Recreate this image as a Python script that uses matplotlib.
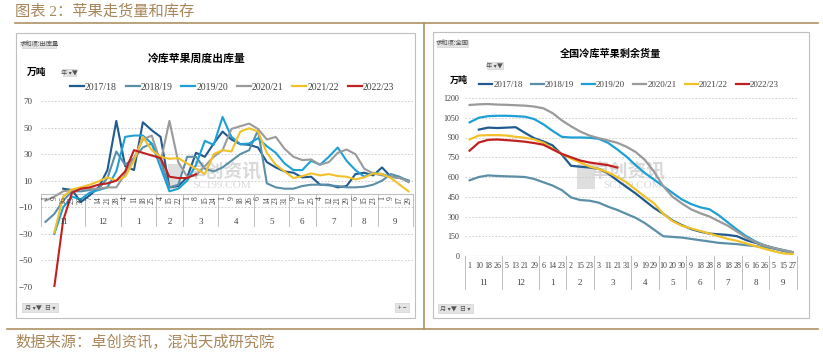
import numpy as np
import matplotlib
matplotlib.use("Agg")
import matplotlib.pyplot as plt
from matplotlib.lines import Line2D
from matplotlib.patches import Rectangle

plt.rcParams['font.family'] = ['Liberation Serif', 'Noto Sans CJK SC', 'DejaVu Sans']

nan = np.nan

#Season labels and colours
seasons = ["2017/18", "2018/19", "2019/20", "2020/21", "2021/22", "2022/23"]
colors = ["#1f5b8e", "#5b8fa8", "#1ea0d6", "#9a9a9a", "#f2c12a", "#c0201f"]

#Left chart: weekly outflow (万吨)
leftMonths = ["11", "12", "1", "2", "3", "4", "5", "6", "7", "8", "9"]
leftDays = [[1, 9, 16, 23, 30], [7, 14, 21, 28], [4, 11, 18, 25], [4, 15, 22], [1, 8, 15, 24],
            [1, 9, 18, 26], [6, 14, 23, 31], [9, 17, 25], [4, 12, 21, 29], [6, 15, 23], [1, 9, 17, 29]]

out1718 = [nan, nan, 4, 3, -6, -1, 5, 18, 55, 21, 18, 54, 48, 43, 5, 6, 12.5, 31, 28, 38, 47, 41,
           37.5, 37, 35, 24, 20, 17, 16, 12.5, 13, 7, 7, 5, 6, 15, 16, 14, 20, 13, 12.5, 10]
out1819 = [-21, -15, -5, 2, 2, 3, 4, 12, 32, 22, 27, 35, 38, 25, 5, 7, 28, 28, 19, 17, 20, 25,
           30, 33, 48, 8, 5, 4, 4, 6, 7, 7, 6.5, 6, 5, 5, 5.5, 7, 10, 15, 13, 9]
out1920 = [nan, -30, -10, -2, -4, 1, 3, 5, 17, 43, 44, 44, 38, 20, 2, 4, 10, 22, 40, 37, 58, 43,
           37.5, 38, 42, 36, 31, 23, 18, 18, 25, 22, 28, 35, 25, 18, 13, 16, 15, 13, 12, 10]
out2021 = [-5, -2, 2, 3, 4, 4, 4, 5, 5, 15, 27, 41, 44, 24, 55, 24, 13, 14, 21, 28, 33, 49,
           51, 53, 49, 41, 43, 34, 28, 25.5, 26, 22, 24, 31, 33.5, 30, 19, 15.5, 14, 13, 12, 9.5]
out2122 = [nan, -29, -2, 3.5, 5, 7, 9.5, 12.5, 10, 13, 25, 43, 33, 28, 26.5, 27, 23, 19, 15, 30,
           33, 32, 47, 49.5, 47, 31, 22, 17, 12, 13.5, 15.5, 14, 15, 13.5, 13, 11, 12.5, 15.5, 15, 12, 7, 2]
out2223 = [nan, -70, -20, 1, 4, 5, 7, 8, 10, 17, 33, 31, 29, 27, 13, 12, 12, 15] + [nan] * 24

#Right chart: remaining stock (万吨)
rightMonths = ["11", "12", "1", "2", "3", "4", "5", "6", "7", "8", "9"]
rightDays = [[1, 10, 18, 26], [5, 13, 21, 29], [6, 14, 23], [2, 15, 23], [3, 11, 21, 31], [9, 19, 29],
             [10, 20, 30], [9, 18, 28], [8, 18, 28], [6, 16, 26], [5, 15, 27]]

stock1718 = [nan, 960, 975, 972, 975, 978, 935, 895, 870, 840, 770, 685, 678, 672, 662, 628, 575, 525,
             475, 420, 365, 320, 270, 235, 205, 185, 170, 165, 160, 150, 120, 100, 80, 60, 40, 25]
stock1819 = [575, 600, 612, 608, 605, 603, 600, 585, 560, 535, 500, 445, 425, 420, 405, 375, 350, 320,
             290, 250, 200, 150, 145, 140, 130, 120, 110, 100, 95, 90, 82, 75, 68, 55, 40, 25]
stock1920 = [1015, 1050, 1062, 1065, 1065, 1062, 1058, 1040, 1000, 950, 905, 900, 900, 898, 890, 860,
             810, 755, 690, 630, 580, 530, 480, 430, 395, 370, 355, 310, 255, 200, 150, 110, 80, 60, 45, 30]
stock2021 = [1147, 1152, 1154, 1150, 1148, 1145, 1142, 1135, 1122, 1085, 1030, 985, 945, 915, 895, 878,
             860, 830, 790, 730, 640, 530, 450, 400, 355, 325, 300, 265, 230, 185, 140, 105, 80, 60, 45, 30]
stock2122 = [885, 915, 918, 918, 915, 905, 898, 885, 860, 815, 775, 740, 710, 680, 660, 635, 600, 560,
             505, 450, 400, 320, 265, 230, 210, 190, 170, 150, 130, 115, 95, 75, 55, 35, 20, 15]
stock2223 = [800, 862, 882, 885, 880, 875, 868, 858, 845, 810, 775, 750, 725, 710, 700, 690, 672] + [nan] * 19

W, H = 823, 353
gold = "#ad9163"
border = "#bfbfbf"
grid = "#c8c8c8"
textGray = "#404040"


def fx(x):
    return x / W


def fy(y):
    return 1 - y / H


def axesRect(x0, y0, x1, y1):
    return [fx(x0), fy(y1), fx(x1) - fx(x0), fy(y0) - fy(y1)]


def button(fig, x0, y0, x1, y1, label):
    fig.add_artist(Rectangle((fx(x0), fy(y1)), fx(x1) - fx(x0), fy(y0) - fy(y1),
                             transform=fig.transFigure, facecolor="#e4e4e4", edgecolor="#d0d0d0", lw=0.5))
    fig.text(fx((x0 + x1) / 2), fy((y0 + y1) / 2), label, fontsize=4.5, color="#555555",
             ha="center", va="center", family=['Noto Sans CJK SC', 'DejaVu Sans'])


def categoryAxis(ax, months, days, sepBottom, dayY, monthY, rotate, dayFont):
    x = 0
    bounds = [-0.5]
    for m, dlist in zip(months, days):
        for d in dlist:
            if rotate:
                ax.text(x, dayY, str(d), rotation=90, ha="center", va="top", fontsize=dayFont,
                        color=textGray, clip_on=False)
            else:
                ax.text(x, dayY, str(d), ha="center", va="center", fontsize=dayFont,
                        color=textGray, clip_on=False)
            x += 1
        ax.text((bounds[-1] + x - 0.5) / 2, monthY, m, ha="center", va="center", fontsize=6.5,
                color=textGray, clip_on=False)
        bounds.append(x - 0.5)
    for b in bounds:
        ax.plot([b, b], [sepBottom, 0], color=border, lw=0.7, clip_on=False)


def legend(fig, cx, cy, size):
    handles = [Line2D([], [], color=c, lw=1.6) for c in colors]
    fig.legend(handles, seasons, loc="center", bbox_to_anchor=(fx(cx), fy(cy)), ncol=6, frameon=False,
               fontsize=size, handlelength=1.45, handletextpad=0.1, columnspacing=0.9,
               labelcolor=textGray, borderpad=0)


def watermark(fig, x0, x1, y0, y1, tx, tx2):
    fig.add_artist(Rectangle((fx(x0), fy(y1)), fx(x1) - fx(x0), fy(y0) - fy(y1),
                             transform=fig.transFigure, facecolor="#dedede", edgecolor="none", zorder=0.2))
    fig.text(fx(tx), fy(171), "卓创资讯", fontsize=13.5, fontweight="bold", color="#d9d9d9",
             ha="center", va="center", family=['Noto Sans CJK SC'], zorder=0.2)
    fig.text(fx(tx2), fy(185), "SC199.COM", fontsize=8, color="#dadada", ha="center", va="center", zorder=0.2)


fig = plt.figure(figsize=(W / 100, H / 100), dpi=100)

#Report frame
fig.text(fx(15), fy(11), "图表 2：苹果走货量和库存", fontsize=11, color="#a88659", ha="left", va="center")
fig.add_artist(Line2D([fx(15), fx(818)], [fy(23), fy(23)], color=gold, lw=1.2))
fig.add_artist(Line2D([fx(424), fx(424)], [fy(23), fy(329)], color=gold, lw=1.2))
fig.add_artist(Line2D([fx(7), fx(818)], [fy(329), fy(329)], color=gold, lw=1.2))
fig.text(fx(15), fy(342), "数据来源：卓创资讯，混沌天成研究院", fontsize=11, color="#a88659",
         ha="left", va="center")

#Panel borders
for x0, y0, x1, y1 in [(16, 33, 415, 318), (433, 32, 809, 318)]:
    fig.add_artist(Rectangle((fx(x0), fy(y1)), fx(x1) - fx(x0), fy(y0) - fy(y1),
                             transform=fig.transFigure, fill=False, edgecolor=border, lw=0.8))

#Left chart
watermark(fig, 168, 181, 164, 189, 224, 222)
ax1 = fig.add_axes(axesRect(41, 101, 413, 287))
ax1.set_zorder(1)
ax1.patch.set_alpha(0)
for y in [70, 50, 30, 10, -10, -30, -50, -70]:
    ax1.axhline(y, color=grid, lw=0.6, ls=(0, (2, 2)), zorder=1)
ax1.axhline(0, color=border, lw=0.8, zorder=1)
xs = np.arange(len(out2021))
for vals, c in zip([out1718, out1819, out1920, out2021, out2122, out2223], colors):
    ax1.plot(xs, vals, color=c, lw=1.5, zorder=3)
ax1.set_xlim(-0.5, len(xs) - 0.5)
ax1.set_ylim(-70, 70)
ax1.set_xticks([])
ax1.set_yticks([70, 50, 30, 10, -10, -30, -50, -70])
ax1.tick_params(axis="y", length=0, pad=6, labelsize=6.5, labelcolor=textGray)
for s in ax1.spines.values():
    s.set_visible(False)
categoryAxis(ax1, leftMonths, leftDays, -24, -1.5, -21, True, 5.5)

fig.text(fx(197), fy(59), "冷库苹果周度出库量", fontsize=7.8, fontweight="bold", ha="center", va="center",
         family=['Noto Sans CJK SC'])
fig.text(fx(37), fy(72), "万吨", fontsize=7, fontweight="bold", ha="center", va="center",
         family=['Noto Sans CJK SC'])
legend(fig, 232, 87, 7)
button(fig, 22, 41, 56, 48, "求和项:出库量")
button(fig, 63, 69, 76, 76, "年 ▾▼")
button(fig, 22, 303, 58, 312, "月 ▾▼  日 ▾")
button(fig, 395, 303, 409, 312, "+ −")

#Right chart
watermark(fig, 577, 595, 164, 189, 628, 633)
ax2 = fig.add_axes(axesRect(465, 98, 797, 256))
ax2.set_zorder(1)
ax2.patch.set_alpha(0)
for y in range(150, 1201, 150):
    ax2.axhline(y, color=grid, lw=0.6, ls=(0, (2, 2)), zorder=1)
ax2.axhline(0, color=border, lw=0.8, zorder=1)
xs2 = np.arange(len(stock2021))
for vals, c in zip([stock1718, stock1819, stock1920, stock2021, stock2122, stock2223], colors):
    ax2.plot(xs2, vals, color=c, lw=1.6, zorder=3)
ax2.set_xlim(-0.5, len(xs2) - 0.5)
ax2.set_ylim(0, 1200)
ax2.set_xticks([])
ax2.set_yticks(range(0, 1201, 150))
ax2.tick_params(axis="y", length=0, pad=4, labelsize=5.8, labelcolor=textGray)
for s in ax2.spines.values():
    s.set_visible(False)
categoryAxis(ax2, rightMonths, rightDays, -250, -74, -205, False, 5.8)

fig.text(fx(610), fy(54), "全国冷库苹果剩余货量", fontsize=7.3, fontweight="bold", ha="center", va="center",
         family=['Noto Sans CJK SC'])
fig.text(fx(459), fy(80), "万吨", fontsize=6.5, fontweight="bold", ha="center", va="center",
         family=['Noto Sans CJK SC'])
legend(fig, 629, 85, 6.5)
button(fig, 437, 40, 468, 47, "求和项:全国")
button(fig, 487, 62, 503, 69, "年 ▾▼")
button(fig, 438, 304, 473, 313, "月 ▾▼  日 ▾")

fig.savefig("out.png", dpi=100)
